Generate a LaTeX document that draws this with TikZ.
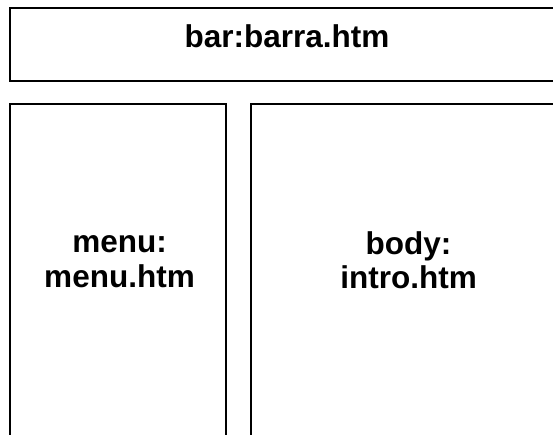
\documentclass[tikz,border=0pt]{standalone}
\usepackage{fontspec}
\setmainfont{Liberation Sans}
\begin{document}
\begin{tikzpicture}[x=1pt,y=-1pt,
  framebox/.style={draw=black,line width=2pt,inner sep=0pt,outer sep=0pt,fill=none},
  frametext/.style={font=\fontsize{31.5}{34.5}\selectfont\bfseries,align=center,inner sep=0pt}]
\useasboundingbox (0,0) rectangle (553,434);
\clip (0,0) rectangle (553,434);
\node[framebox,minimum width=555.7pt,minimum height=72.2pt] (bar) at (288.15,44.4) {};
\node[framebox,minimum width=215.7pt,minimum height=415.7pt] (menu) at (118.15,312.15) {};
\node[framebox,minimum width=317.2pt,minimum height=415.7pt] (body) at (409.4,312.15) {};
\node[frametext,anchor=base] (bartext) at (287,47) {bar:barra.htm};
\node[frametext] (menutext) at (119.5,261.5) {menu:\\menu.htm};
\node[frametext] (bodytext) at (408.5,260) {body:\\intro.htm};
\end{tikzpicture}
\end{document}
